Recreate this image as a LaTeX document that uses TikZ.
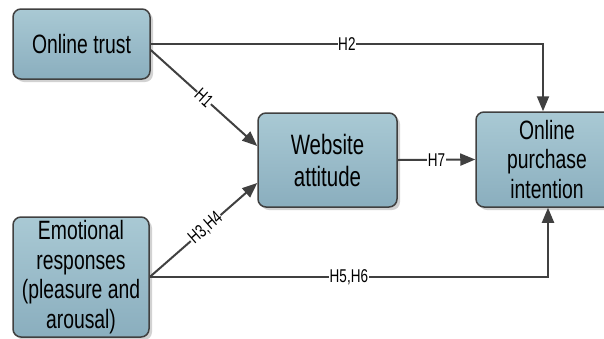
\documentclass[tikz,border=0pt]{standalone}
\usepackage{fontspec}
\setmainfont{Liberation Sans}[FakeStretch=0.73]
\usetikzlibrary{arrows.meta,shadows}
\definecolor{edgecol}{HTML}{404040}
\definecolor{boxtop}{HTML}{A9C9D4}
\definecolor{boxbot}{HTML}{8AAEBE}
\tikzset{
  box/.style={draw=edgecol, line width=1.5pt, rounded corners=8pt,
    top color=boxtop, bottom color=boxbot, align=center, inner sep=2pt,
    font=\fontsize{26.5}{29.5}\selectfont,
    drop shadow={shadow xshift=3pt, shadow yshift=-3pt, fill=gray!35, opacity=1}},
  arr/.style={draw=edgecol, line width=2pt, -{Triangle[length=15pt,width=12pt]}},
  lbl/.style={fill=white, inner sep=0.5pt, font=\fontsize{18.5}{20}\selectfont}
}
\begin{document}
\begin{tikzpicture}[x=1pt,y=-1pt]
\useasboundingbox (0,0) rectangle (604,338);
\clip (0,0) rectangle (604,338);
\node[box, minimum width=137pt, minimum height=70pt] (trust) at (81.5,44) {Online trust};
\node[box, minimum width=136pt, minimum height=120pt] (emo) at (81,277) {Emotional\\responses\\(pleasure and\\arousal)};
\node[box, minimum width=139pt, minimum height=94pt, font=\fontsize{28}{32}\selectfont] (web) at (327.5,160) {Website\\attitude};
\node[box, minimum width=142pt, minimum height=95pt] (purch) at (547,159.5) {Online\\purchase\\intention};
\coordinate (c2) at (543,44);
\coordinate (c56) at (548,277);
\draw[arr] (trust.east) -- node[lbl] {H2} (c2) -- (c2 |- purch.north);
\draw[arr] ([yshift=-6pt]trust.east) -- node[lbl, sloped] {H1} ([yshift=14pt]web.west);
\draw[arr] (emo.east) -- node[lbl, sloped, pos=0.52] {H3,H4} ([yshift=-23pt]web.west);
\draw[arr] (emo.east) -- node[lbl] {H5,H6} (c56) -- (c56 |- purch.south);
\draw[arr] (web.east) -- node[lbl] {H7} (purch.west);
\end{tikzpicture}
\end{document}
